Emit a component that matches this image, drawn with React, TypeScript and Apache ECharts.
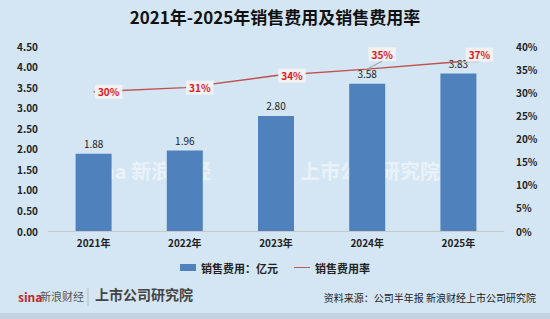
import React, { useEffect, useRef } from "react";
import * as echarts from "echarts";

const categories = ["2021年", "2022年", "2023年", "2024年", "2025年"];
const expense = [1.88, 1.96, 2.8, 3.58, 3.83];
const expenseRate = [0.301, 0.31, 0.336, 0.35, 0.366];
const rateLabels = ["30%", "31%", "34%", "35%", "37%"];

const FONT = "'Noto Sans CJK SC', 'Noto Sans', sans-serif";

export default function App() {
  const ref = useRef<HTMLDivElement>(null);
  useEffect(() => {
    if (!ref.current) return;
    const chart = echarts.init(ref.current, undefined, { renderer: "svg" });
    const labelOffsets: number[][] = [[15, 0], [15, 0], [16, 0], [15, -15], [21, -7]];
    chart.setOption({
      animation: false,
      backgroundColor: "#D4E6F4",
      textStyle: { fontFamily: FONT },
      title: {
        text: "2021年-2025年销售费用及销售费用率",
        left: "center",
        top: 3,
        textStyle: { fontSize: 17, fontWeight: "bold", color: "#111", fontFamily: FONT },
      },
      legend: {
        top: 257,
        left: "center",
        itemWidth: 16,
        itemHeight: 7,
        itemGap: 16,
        textStyle: { fontSize: 11, fontWeight: "bold", color: "#222", fontFamily: FONT },
        data: [
          { name: "销售费用：亿元", icon: "rect" },
          { name: "销售费用率", icon: "path://M0,3h20v1.2H0z" },
        ],
      },
      grid: { left: 48, right: 46, top: 46, bottom: 88, containLabel: false },
      xAxis: {
        type: "category",
        data: categories,
        axisLine: { lineStyle: { color: "#C8C8C8" } },
        axisTick: { show: false },
        axisLabel: { fontSize: 10, fontWeight: "bold", color: "#222", margin: 6, fontFamily: FONT },
      },
      yAxis: [
        {
          type: "value",
          min: 0,
          max: 4.5,
          interval: 0.5,
          splitLine: { show: false },
          axisLine: { show: false },
          axisLabel: {
            fontSize: 10,
            fontWeight: "bold",
            color: "#222",
            margin: 10,
            formatter: (v: number) => v.toFixed(2),
          },
        },
        {
          type: "value",
          min: 0,
          max: 0.4,
          interval: 0.05,
          splitLine: { show: false },
          axisLine: { show: false },
          axisLabel: {
            fontSize: 10,
            fontWeight: "bold",
            color: "#222",
            margin: 12,
            formatter: (v: number) => Math.round(v * 100) + "%",
          },
        },
      ],
      series: [
        {
          name: "销售费用：亿元",
          type: "bar",
          data: expense,
          barWidth: 36,
          z: 2,
          itemStyle: { color: "#4F81BD" },
          label: {
            show: true,
            position: "top",
            fontSize: 10,
            color: "#222",
            formatter: (p: any) => p.value.toFixed(2),
          },
        },
        {
          name: "销售费用率",
          type: "line",
          yAxisIndex: 1,
          symbol: "circle",
          symbolSize: 0,
          showSymbol: true,
          z: 3,
          lineStyle: { color: "#C0504D", width: 1.5 },
          itemStyle: { color: "#C0504D" },
          data: expenseRate.map((v, i) => ({
            value: v,
            label: {
              show: true,
              position: "inside",
              offset: labelOffsets[i],
              formatter: rateLabels[i],
              fontSize: 10,
              fontWeight: "bold",
              color: "#E0141E",
              backgroundColor: "#F2F2F2",
              padding: [2, 3],
            },
            labelLine: i >= 3 ? { show: true, lineStyle: { color: "#999" } } : undefined,
          })),
        },
      ],
      graphic: [
        {
          type: "text",
          left: 86,
          top: 160,
          z: 1,
          style: { text: "sina 新浪财经", fontSize: 20, fontWeight: "bold", fill: "rgba(255,255,255,0.5)", fontFamily: FONT },
        },
        {
          type: "text",
          left: 300,
          top: 160,
          z: 1,
          style: { text: "上市公司研究院", fontSize: 20, fontWeight: "bold", fill: "rgba(255,255,255,0.5)", fontFamily: FONT },
        },
        {
          type: "text",
          left: 18,
          top: 290,
          style: { text: "sina", fontSize: 12, fontWeight: "bold", fill: "#C0262C", fontFamily: FONT },
        },
        {
          type: "text",
          left: 40,
          top: 290,
          style: { text: "新浪财经", fontSize: 11, fill: "#555", fontFamily: FONT },
        },
        {
          type: "line",
          shape: { x1: 88, y1: 288, x2: 88, y2: 306 },
          style: { stroke: "#BBB", lineWidth: 1 },
        },
        {
          type: "text",
          left: 95,
          top: 287,
          style: { text: "上市公司研究院", fontSize: 14, fontWeight: "bold", fill: "#444", fontFamily: FONT },
        },
        {
          type: "text",
          right: 14,
          top: 292,
          style: { text: "资料来源：公司半年报 新浪财经上市公司研究院", fontSize: 10, fill: "#222", fontFamily: FONT },
        },
        {
          type: "rect",
          shape: { x: 0, y: 313, width: 550, height: 6 },
          style: { fill: "#C2D2E0" },
        },
      ],
    });
    return () => chart.dispose();
  }, []);
  return <div ref={ref} style={{ width: 550, height: 319, position: "absolute", left: 0, top: 0 }} />;
}
